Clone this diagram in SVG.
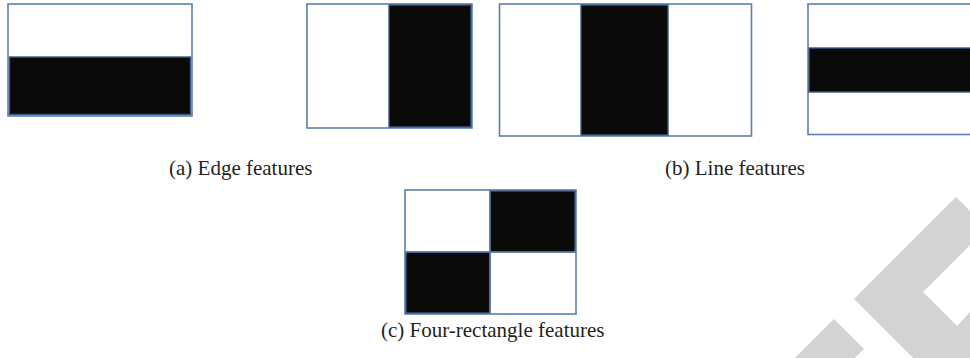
<svg xmlns="http://www.w3.org/2000/svg" width="970" height="358" viewBox="0 0 970 358">
<style>
.box{fill:#ffffff;stroke:#5b7fae;stroke-width:1.6}
.blk{fill:#0a0a08;stroke:#3a5a86;stroke-width:1.4}
.cap{font-family:"Liberation Serif","Times New Roman",serif;font-size:21px;fill:#231f20}
.wm{fill:#d3d3d3}
</style>
<rect width="970" height="358" fill="#ffffff"/>
<g id="edge-horizontal">
<rect class="box" x="8" y="4" width="184" height="112"/>
<rect class="blk" x="9.5" y="57" width="181" height="57.5"/>
</g>
<g id="edge-vertical">
<rect class="box" x="307" y="4" width="165" height="124"/>
<rect class="blk" x="389" y="5" width="82" height="122"/>
</g>
<g id="line-vertical">
<rect class="box" x="499.5" y="4" width="252" height="132"/>
<rect class="blk" x="581" y="5" width="87" height="130"/>
</g>
<g id="line-horizontal">
<rect class="box" x="808" y="4" width="170" height="130.5"/>
<rect class="blk" x="809" y="48" width="168" height="44"/>
</g>
<g id="four-rectangle">
<rect class="box" x="405" y="190" width="171" height="124"/>
<rect class="blk" x="490" y="191" width="85" height="61"/>
<rect class="blk" x="406" y="252" width="84" height="61"/>
<line x1="490" y1="190" x2="490" y2="314" stroke="#5b7fae" stroke-width="1.4"/>
<line x1="405" y1="252" x2="576" y2="252" stroke="#5b7fae" stroke-width="1.4"/>
</g>
<g id="captions">
<text class="cap" x="169" y="175">(a) Edge features</text>
<text class="cap" x="665" y="175">(b) Line features</text>
<text class="cap" x="381" y="337">(c) Four-rectangle features</text>
</g>
<g id="watermark">
<polygon class="wm" points="956,197 970,211 970,245 923,292 957,326 970,312 970,358 913,358 854,299"/>
<polygon class="wm" points="795,358 834,319 864,349 855,358"/>
</g>
</svg>
